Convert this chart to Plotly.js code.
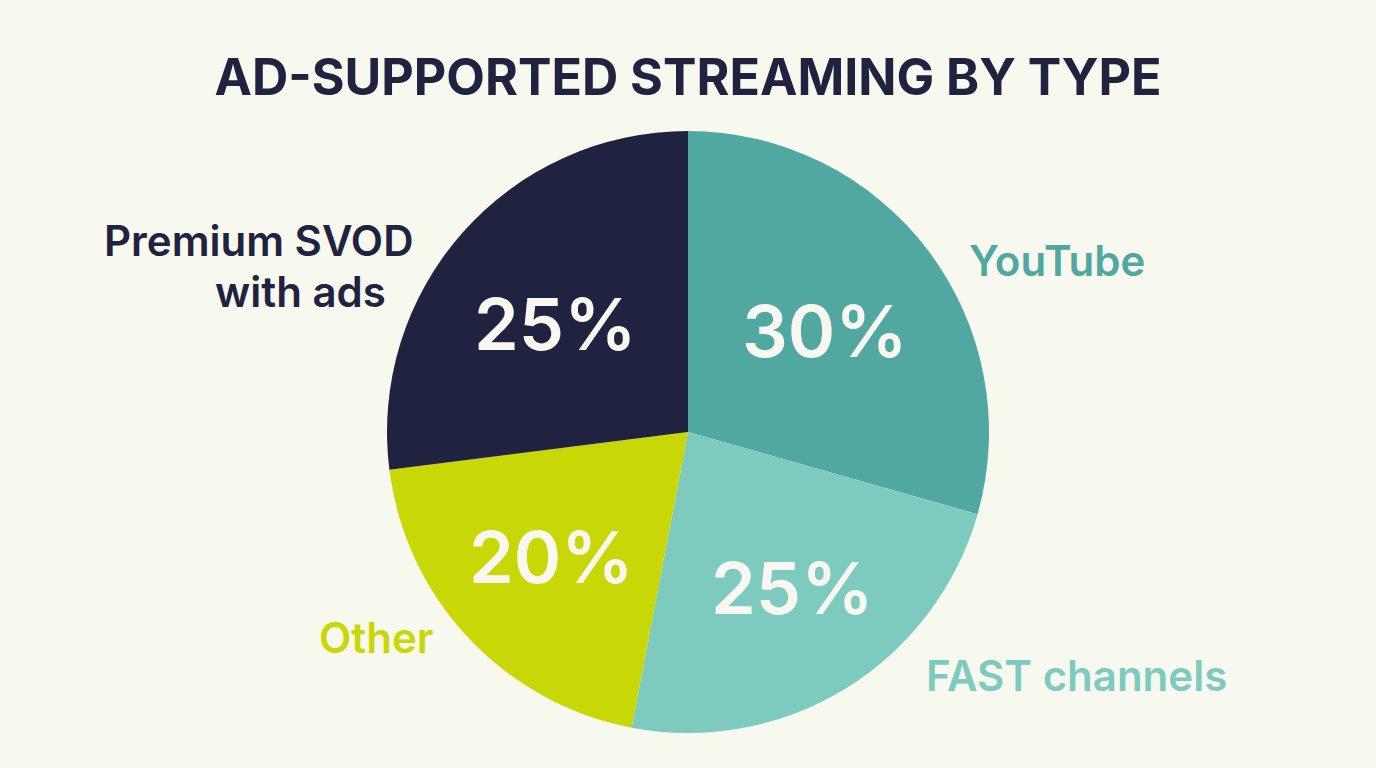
<!DOCTYPE html>
<html>
<head>
<meta charset="utf-8">
<script src="https://cdn.plot.ly/plotly-3.0.1.min.js"></script>
<style>html,body{margin:0;padding:0;background:#F7F8EE;overflow:hidden}#chart{width:1376px;height:768px}</style>
</head>
<body>
<div id="chart"></div>
<script>
const categories = ["YouTube", "FAST channels", "Other", "Premium SVOD with ads"];
const labelLines = ["YouTube", "FAST channels", "Other", "Premium SVOD", "with ads"];
const drawnShares = [29.4, 23.6, 20, 27];
const printedLabels = ["30%", "25%", "20%", "25%"];
const sliceColors = ["#51A8A1", "#7DCBBF", "#C8D806", "#20233F"];
const W = 1376, H = 768;
const cx = 688, cy = 432, r = 301;
const textAnn = (text, px, py, size, color, weight) => ({
  text, x: px / W, y: 1 - py / H, xref: "paper", yref: "paper",
  xanchor: "center", yanchor: "middle", showarrow: false, align: "center",
  font: {family: "Inter, sans-serif", size, color, weight}
});
Plotly.newPlot("chart", [{
  type: "pie",
  labels: categories,
  values: drawnShares,
  text: printedLabels,
  textinfo: "none",
  sort: false,
  direction: "clockwise",
  rotation: 0,
  marker: {colors: sliceColors, line: {width: 0}},
  domain: {x: [(cx - r) / W, (cx + r) / W], y: [1 - (cy + r) / H, 1 - (cy - r) / H]},
  showlegend: false,
  hoverinfo: "label+text"
}], {
  width: W, height: H,
  margin: {l: 0, r: 0, t: 0, b: 0},
  paper_bgcolor: "#F7F8EE",
  title: {
    text: "<b>AD-SUPPORTED STREAMING BY TYPE</b>",
    font: {family: "Inter, sans-serif", size: 50.2, color: "#20233F"},
    x: 0.5, xanchor: "center", y: 1 - 77 / H, yanchor: "middle"
  },
  annotations: [
    textAnn(labelLines[0], 1057, 260, 42, sliceColors[0], 600),
    textAnn(labelLines[1], 1076, 675, 42, sliceColors[1], 600),
    textAnn(labelLines[2], 376, 637, 42, sliceColors[2], 600),
    textAnn(labelLines[3], 258, 240, 42, sliceColors[3], 600),
    textAnn(labelLines[4], 300, 292, 42, sliceColors[3], 600),
    textAnn(printedLabels[0], 825, 331, 72, "#F8F8F0", 600),
    textAnn(printedLabels[1], 792, 587, 72, "#F8F8F0", 600),
    textAnn(printedLabels[2], 551, 556, 72, "#F8F8F0", 600),
    textAnn(printedLabels[3], 555, 323, 72, "#F8F8F0", 600)
  ]
}, {displayModeBar: false, staticPlot: true});
</script>
</body>
</html>
